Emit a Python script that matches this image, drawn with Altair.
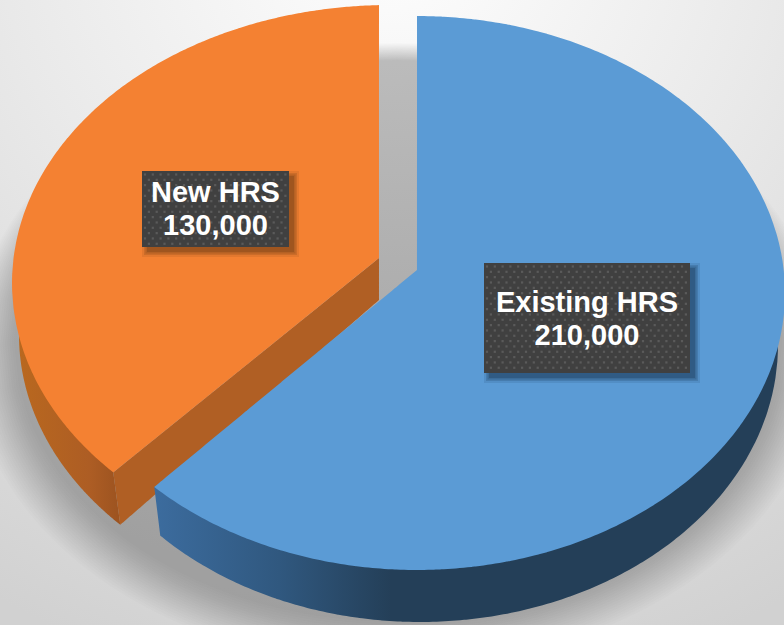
import math
import numpy as np
import pandas as pd
import altair as alt

# Slice values, labels and colours
categories = ["Existing HRS", "New HRS"]
hours = [210000, 130000]
top_colors = ["#5b9bd5", "#f48132"]

W, H = 784, 625
total = sum(hours)
sweep_blue = 2 * math.pi * hours[0] / total

x_scale = alt.Scale(domain=[0, W], range=[0, W], nice=False, zero=False)
y_scale = alt.Scale(domain=[0, H], range=[0, H], nice=False, zero=False)


def ell(c, r, t):
    return (c[0] + r[0] * math.sin(t), c[1] - r[1] * math.cos(t))


def ray_hit(apex, c, r, a):
    # Where a ray from the slice's apex at pie angle a meets the rim ellipse
    dx, dy = r[0] * math.sin(a), -r[1] * math.cos(a)
    ox, oy = (apex[0] - c[0]) / r[0], (apex[1] - c[1]) / r[1]
    ux, uy = dx / r[0], dy / r[1]
    A = ux * ux + uy * uy
    B = 2 * (ox * ux + oy * uy)
    C = ox * ox + oy * oy - 1
    s = (-B + math.sqrt(B * B - 4 * A * C)) / (2 * A)
    return (apex[0] + s * dx, apex[1] + s * dy)


def rim(apex, c, r, a0, a1, n=160):
    return [ray_hit(apex, c, r, a) for a in np.linspace(a0, a1, n)]


def lower_t(c, r, x):
    return math.pi - math.asin((x - c[0]) / r[0])


def slabs(poly, n=160):
    # Turn a polygon into top/bottom boundaries per x for an area mark
    xs = {v[0] + e for v in poly[:: max(1, len(poly) // 40)] for e in (-0.02, 0.02)}
    xs |= {v[0] + e for v in poly[:2] + poly[-2:] for e in (-0.02, 0.02)}
    lo, hi = min(v[0] for v in poly), max(v[0] for v in poly)
    xs = sorted(xs | set(np.linspace(lo, hi, n)))
    rows = []
    m = len(poly)
    for x in xs:
        ys = []
        for i in range(m):
            (x0, y0), (x1, y1) = poly[i], poly[(i + 1) % m]
            if (x0 <= x < x1) or (x1 <= x < x0):
                ys.append(y0 + (x - x0) / (x1 - x0) * (y1 - y0))
        if ys:
            rows.append({"x": round(float(x), 2), "y": round(min(ys), 2), "y2": round(max(ys), 2)})
    return pd.DataFrame(rows)


def shape(poly, fill, opacity=1.0, n=160):
    return (
        alt.Chart(slabs(poly, n))
        .mark_area(color=fill, opacity=opacity, clip=True, interpolate="linear")
        .encode(
            x=alt.X("x:Q", scale=x_scale, axis=None),
            y=alt.Y("y:Q", scale=y_scale, axis=None),
            y2="y2:Q",
        )
    )


def box(x0, x1, y0, y1, fill, opacity=1.0):
    frame = pd.DataFrame({"x": [x0], "x2": [x1], "y": [y0], "y2": [y1]})
    return (
        alt.Chart(frame)
        .mark_rect(color=fill, opacity=opacity, clip=True)
        .encode(
            x=alt.X("x:Q", scale=x_scale, axis=None),
            x2="x2:Q",
            y=alt.Y("y:Q", scale=y_scale, axis=None),
            y2="y2:Q",
        )
    )


def h_gradient(stops):
    return alt.Gradient(
        gradient="linear",
        stops=[alt.GradientStop(offset=o, color=col) for o, col in stops],
        x1=0, x2=1, y1=0, y2=0,
    )


layers = []

# Page backdrop: bright at the top centre, falling off to grey
layers.append(
    box(0, W, 0, H,
        alt.RadialGradient(
            gradient="radial",
            stops=[
                alt.GradientStop(offset=0, color="#ffffff"),
                alt.GradientStop(offset=0.5, color="#e9e9e9"),
                alt.GradientStop(offset=1, color="#d1d1d1"),
            ],
            x1=0.5, y1=0, r1=0, x2=0.5, y2=0, r2=1,
        ))
)

# Soft shadow under the pie: nested ellipses from the blurred outer edge inwards
steps = 20
for k in range(steps):
    f = k / (steps - 1)
    cx = 397
    cy = 355 + (341 - 355) * f
    rx = 427 + (383 - 427) * f
    ry = 312 + (281 - 312) * f
    layers.append(
        shape([ell((cx, cy), (rx, ry), t) for t in np.linspace(0, 2 * math.pi, 120, endpoint=False)],
              "#000000", 0.0115, n=110)
    )

# Orange slice: rim wall, cut wall, top
o_apex, o_c, o_r = (379, 258), (390, 283), (378, 278)
o_low_c, o_low_r = (395, 335), (376, 278)
o_corner = ray_hit(o_apex, o_c, o_r, sweep_blue)
t_l = lower_t(o_low_c, o_low_r, o_corner[0] + 7)
o_wall = [ell(o_low_c, o_low_r, t) for t in np.linspace(t_l, 1.52 * math.pi, 60)] + [o_corner]
layers.append(shape(o_wall, h_gradient([(0, "#b9681f"), (0.7, "#ad5d24"), (1, "#9c5320")])))
o_low_end = ell(o_low_c, o_low_r, t_l)
layers.append(shape([o_apex, (o_apex[0], o_apex[1] + 42), o_low_end, o_corner], "#b05f24"))
o_rim = rim(o_apex, o_c, o_r, sweep_blue, 2 * math.pi)
layers.append(shape([o_apex] + o_rim, top_colors[1]))

# Blue slice: rim wall, top
b_apex, b_c, b_r = (417, 270), (417, 293), (368, 277)
b_low_c, b_low_r = (420, 345), (358, 277)
b_corner = ray_hit(b_apex, b_c, b_r, sweep_blue)
t_b = lower_t(b_low_c, b_low_r, b_corner[0] + 6)
b_wall = [b_corner] + [ell(b_low_c, b_low_r, t) for t in np.linspace(t_b, 0.5 * math.pi, 120)]
layers.append(shape(b_wall, h_gradient([(0, "#3c6c9e"), (0.2, "#30587f"), (0.38, "#243f58"), (1, "#243f58")])))
b_rim = rim(b_apex, b_c, b_r, 0, sweep_blue)
layers.append(shape([b_apex] + b_rim, top_colors[0]))

# Value labels on dark dotted plates
plates = [
    (categories[0], hours[0], 484, 690, 263, 373, 311.5, 344.5, "#24486b"),
    (categories[1], hours[1], 142, 289, 171, 247, 201.5, 235, "#84481a"),
]
for name, value, x0, x1, y0, y1, base1, base2, shade in plates:
    for g, op in ((5, 0.15), (3, 0.25), (1.5, 0.3), (0, 0.45)):
        layers.append(box(x0 + 5 - g, x1 + 5 + g, y0 + 5 - g, y1 + 5 + g, shade, op))
    layers.append(box(x0, x1, y0, y1, "#404040"))
    dots = []
    for j, yy in enumerate(np.arange(y0 + 3.5, y1 - 1, 5.33)):
        start = x0 + 3 + (3.9 if j % 2 else 0)
        for xx in np.arange(start, x1 - 1, 7.8):
            dots.append({"x": round(float(xx), 2), "y": round(float(yy), 2)})
    layers.append(
        alt.Chart(pd.DataFrame(dots))
        .mark_square(color="#5a5a5a", size=5, opacity=1)
        .encode(x=alt.X("x:Q", scale=x_scale, axis=None), y=alt.Y("y:Q", scale=y_scale, axis=None))
    )
    lines = pd.DataFrame({
        "x": [(x0 + x1) / 2, (x0 + x1) / 2],
        "y": [base1, base2],
        "t": [name, f"{value:,}"],
    })
    layers.append(
        alt.Chart(lines)
        .mark_text(font="Liberation Sans", fontWeight="bold", fontSize=29, color="#ffffff",
                   align="center", baseline="alphabetic")
        .encode(x=alt.X("x:Q", scale=x_scale, axis=None), y=alt.Y("y:Q", scale=y_scale, axis=None), text="t:N")
    )

chart = (
    alt.layer(*layers)
    .properties(width=W, height=H, padding=0, autosize=alt.AutoSizeParams(type="none"))
    .configure_view(stroke=None)
)

chart.save("out.html", embed_options={"renderer": "svg", "actions": False})
